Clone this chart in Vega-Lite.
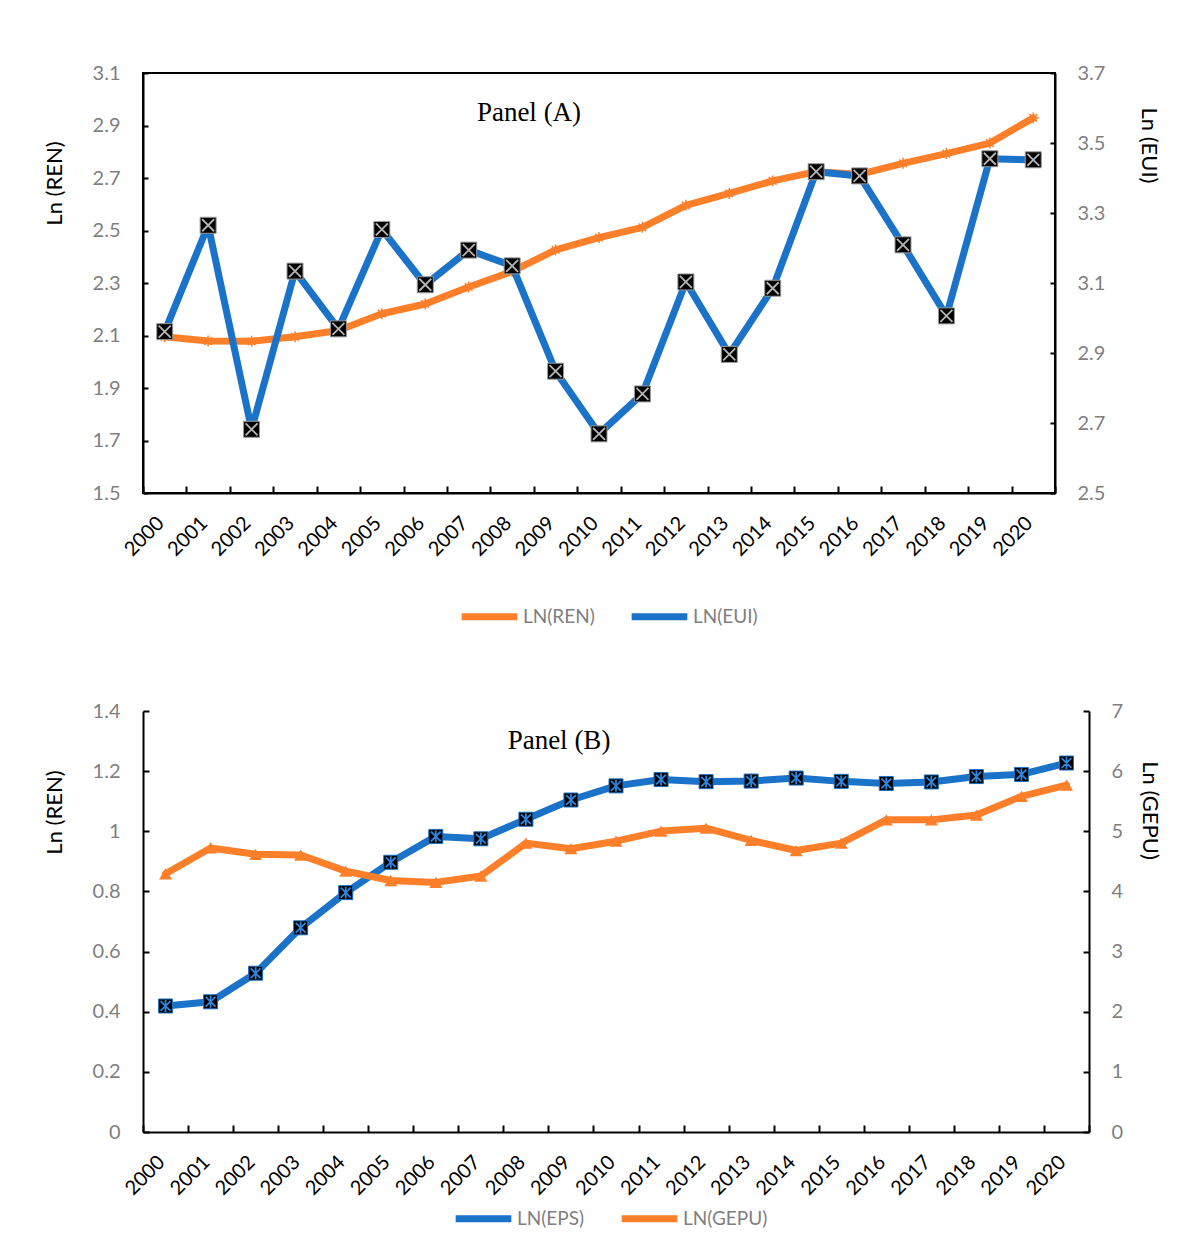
{
  "$schema": "https://vega.github.io/schema/vega-lite/v6.json",
  "padding": {"top": 62, "left": 42, "right": 5, "bottom": 5},
  "background": "white",
  "spacing": 69,
  "config": {
    "font": "Lato",
    "axis": {"grid": false, "domainColor": "black", "domainWidth": 2, "tickColor": "black", "tickWidth": 2, "labelFont": "Lato", "labelFontSize": 20, "labelColor": "#7f7f7f", "titleFont": "Lato", "titleFontSize": 22, "titleFontWeight": "normal", "titleColor": "black"},
    "legend": {"orient": "none", "direction": "horizontal", "labelFont": "Lato", "labelFontSize": 19, "labelColor": "#7f7f7f", "symbolType": "stroke", "symbolStrokeWidth": 7, "symbolSize": 3100, "labelOffset": 2, "columnPadding": 22}
  },
  "resolve": {"scale": {"color": "independent"}, "legend": {"color": "independent"}},
  "vconcat": [
    {
      "width": 912,
      "height": 420,
      "view": {"stroke": "black", "strokeWidth": 2},
      "title": {"text": "Panel (A)", "font": "Liberation Serif", "fontSize": 27, "fontWeight": "normal", "color": "black", "anchor": "middle", "frame": "group", "offset": -47, "dx": -70, "dy": 38, "baseline": "alphabetic"},
      "data": {"values": [
        {"year": "2000", "REN": 2.095, "EUI": 2.961},
        {"year": "2001", "REN": 2.079, "EUI": 3.265},
        {"year": "2002", "REN": 2.078, "EUI": 2.682},
        {"year": "2003", "REN": 2.095, "EUI": 3.134},
        {"year": "2004", "REN": 2.119, "EUI": 2.969},
        {"year": "2005", "REN": 2.183, "EUI": 3.253},
        {"year": "2006", "REN": 2.220, "EUI": 3.095},
        {"year": "2007", "REN": 2.285, "EUI": 3.194},
        {"year": "2008", "REN": 2.344, "EUI": 3.149},
        {"year": "2009", "REN": 2.426, "EUI": 2.848},
        {"year": "2010", "REN": 2.473, "EUI": 2.669},
        {"year": "2011", "REN": 2.512, "EUI": 2.783},
        {"year": "2012", "REN": 2.596, "EUI": 3.103},
        {"year": "2013", "REN": 2.641, "EUI": 2.896},
        {"year": "2014", "REN": 2.689, "EUI": 3.085},
        {"year": "2015", "REN": 2.724, "EUI": 3.418},
        {"year": "2016", "REN": 2.714, "EUI": 3.406},
        {"year": "2017", "REN": 2.756, "EUI": 3.209},
        {"year": "2018", "REN": 2.793, "EUI": 3.006},
        {"year": "2019", "REN": 2.833, "EUI": 3.455},
        {"year": "2020", "REN": 2.929, "EUI": 3.452}
      ]},
      "encoding": {
        "x": {"field": "year", "type": "ordinal", "bandPosition": 0.5,
          "scale": {"type": "band", "paddingInner": 0, "paddingOuter": 0},
          "axis": {"title": null, "labelAngle": -45, "labelAlign": "right", "labelBaseline": "alphabetic", "tickSize": -7, "labelPadding": 38, "tickBand": "extent", "labelColor": "black"}}
      },
      "layer": [
        {
          "encoding": {"y": {"field": "REN", "type": "quantitative", "scale": {"domain": [1.5, 3.1], "nice": false, "zero": false},
            "axis": {"orient": "left", "title": "Ln (REN)", "titleY": 110, "values": [1.5, 1.7, 1.9, 2.1, 2.3, 2.5, 2.7, 2.9, 3.1], "format": ".1f", "tickSize": -5, "labelPadding": 28, "minExtent": 50, "maxExtent": 50, "titlePadding": 27}}},
          "layer": [
            {"mark": {"type": "line", "strokeWidth": 7, "strokeJoin": "round", "strokeCap": "round"},
             "encoding": {"color": {"datum": "LN(REN)", "type": "nominal", "scale": {"domain": ["LN(REN)", "LN(EUI)"], "range": ["#fe7f2a", "#1a72c9"]}, "legend": {"title": null, "legendX": 315, "legendY": 512}}}},
            {"mark": {"type": "point", "shape": "M-1,0L1,0M0,-1L0,1M-0.7,-0.7L0.7,0.7M-0.7,0.7L0.7,-0.7", "filled": false, "stroke": "#fe7f2a", "strokeWidth": 1.5, "size": 120, "opacity": 1}}
          ]
        },
        {
          "encoding": {"y": {"field": "EUI", "type": "quantitative", "scale": {"domain": [2.5, 3.7], "nice": false, "zero": false},
            "axis": {"orient": "right", "title": "Ln (EUI)", "titleY": 72, "values": [2.5, 2.7, 2.9, 3.1, 3.3, 3.5, 3.7], "format": ".1f", "tickSize": -5, "labelPadding": 27, "minExtent": 50, "maxExtent": 50, "titlePadding": 31}}},
          "layer": [
            {"mark": {"type": "line", "strokeWidth": 7, "strokeJoin": "round", "strokeCap": "round"},
             "encoding": {"color": {"datum": "LN(EUI)", "type": "nominal"}}},
            {"mark": {"type": "point", "shape": "square", "filled": true, "fill": "black", "stroke": "#9a9a9a", "strokeWidth": 1, "size": 256, "opacity": 1}},
            {"mark": {"type": "point", "shape": "M-0.75,-0.75L0.75,0.75M-0.75,0.75L0.75,-0.75", "filled": false, "stroke": "#b5b5b5", "strokeWidth": 1.8, "size": 256, "opacity": 1}}
          ]
        }
      ],
      "resolve": {"scale": {"y": "independent"}}
    },
    {
      "width": 946,
      "height": 421,
      "view": {"stroke": null},
      "title": {"text": "Panel (B)", "font": "Liberation Serif", "fontSize": 27, "fontWeight": "normal", "color": "black", "anchor": "middle", "frame": "group", "offset": -38, "dx": -57, "dy": 37, "baseline": "alphabetic"},
      "data": {"values": [
        {"year": "2000", "EPS": 0.419, "GEPU": 4.293},
        {"year": "2001", "EPS": 0.433, "GEPU": 4.723},
        {"year": "2002", "EPS": 0.528, "GEPU": 4.617},
        {"year": "2003", "EPS": 0.679, "GEPU": 4.605},
        {"year": "2004", "EPS": 0.796, "GEPU": 4.338},
        {"year": "2005", "EPS": 0.897, "GEPU": 4.182},
        {"year": "2006", "EPS": 0.983, "GEPU": 4.150},
        {"year": "2007", "EPS": 0.975, "GEPU": 4.256},
        {"year": "2008", "EPS": 1.040, "GEPU": 4.803},
        {"year": "2009", "EPS": 1.104, "GEPU": 4.710},
        {"year": "2010", "EPS": 1.151, "GEPU": 4.835},
        {"year": "2011", "EPS": 1.172, "GEPU": 5.003},
        {"year": "2012", "EPS": 1.165, "GEPU": 5.052},
        {"year": "2013", "EPS": 1.167, "GEPU": 4.848},
        {"year": "2014", "EPS": 1.177, "GEPU": 4.680},
        {"year": "2015", "EPS": 1.166, "GEPU": 4.803},
        {"year": "2016", "EPS": 1.159, "GEPU": 5.190},
        {"year": "2017", "EPS": 1.164, "GEPU": 5.190},
        {"year": "2018", "EPS": 1.182, "GEPU": 5.270},
        {"year": "2019", "EPS": 1.189, "GEPU": 5.581},
        {"year": "2020", "EPS": 1.227, "GEPU": 5.769}
      ]},
      "encoding": {
        "x": {"field": "year", "type": "ordinal", "bandPosition": 0.5,
          "scale": {"type": "band", "paddingInner": 0, "paddingOuter": 0},
          "axis": {"title": null, "labelAngle": -45, "labelAlign": "right", "labelBaseline": "alphabetic", "tickSize": -7, "labelPadding": 38, "tickBand": "extent", "labelColor": "black"}}
      },
      "layer": [
        {
          "encoding": {"y": {"field": "EPS", "type": "quantitative", "scale": {"domain": [0, 1.4], "nice": false, "zero": false},
            "axis": {"orient": "left", "title": "Ln (REN)", "titleY": 101, "values": [0, 0.2, 0.4, 0.6, 0.8, 1, 1.2, 1.4], "format": "~g", "tickSize": -6, "labelPadding": 29, "minExtent": 50, "maxExtent": 50, "titlePadding": 27}}},
          "layer": [
            {"mark": {"type": "line", "strokeWidth": 7, "strokeJoin": "round", "strokeCap": "round"},
             "encoding": {"color": {"datum": "LN(EPS)", "type": "nominal", "scale": {"domain": ["LN(EPS)", "LN(GEPU)"], "range": ["#1a72c9", "#fe7f2a"]}, "legend": {"title": null, "legendX": 309, "legendY": 476}}}},
            {"mark": {"type": "point", "shape": "square", "filled": true, "fill": "black", "stroke": "#1a72c9", "strokeWidth": 1, "size": 196, "opacity": 1}},
            {"mark": {"type": "point", "shape": "M-0.7,-0.7L0.7,0.7M-0.7,0.7L0.7,-0.7M0,-0.85L0,0.85", "filled": false, "stroke": "#2a86e0", "strokeWidth": 1.8, "size": 196, "opacity": 1}}
          ]
        },
        {
          "encoding": {"y": {"field": "GEPU", "type": "quantitative", "scale": {"domain": [0, 7], "nice": false, "zero": false},
            "axis": {"orient": "right", "title": "Ln (GEPU)", "titleY": 99, "values": [0, 1, 2, 3, 4, 5, 6, 7], "format": "d", "tickSize": -6, "labelPadding": 28, "minExtent": 35, "maxExtent": 35, "titlePadding": 13}}},
          "layer": [
            {"mark": {"type": "line", "strokeWidth": 7, "strokeJoin": "round", "strokeCap": "round"},
             "encoding": {"color": {"datum": "LN(GEPU)", "type": "nominal"}}},
            {"mark": {"type": "point", "shape": "triangle-up", "filled": true, "fill": "#fe7f2a", "size": 170, "opacity": 1}}
          ]
        }
      ],
      "resolve": {"scale": {"y": "independent"}}
    }
  ]
}
